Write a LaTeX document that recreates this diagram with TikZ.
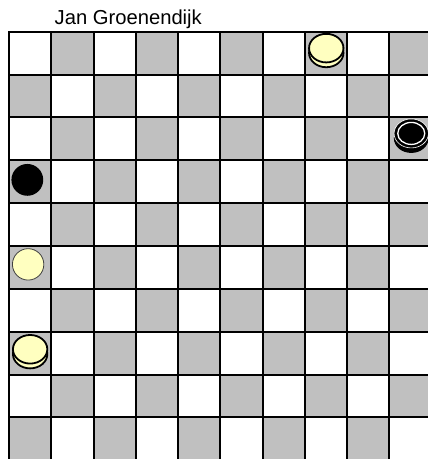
\documentclass[tikz,border=0pt]{standalone}
\usepackage{fontspec}
\setmainfont{Liberation Sans}
\definecolor{sqgray}{RGB}{192,192,192}
\definecolor{wpiece}{RGB}{255,255,192}
\tikzset{
  gridline/.style={line width=2pt, line cap=rect},
  darksq/.style={fill=sqgray},
  wman/.pic={\filldraw[fill=wpiece, draw=black!75, line width=0.8pt] (0,0) circle (15.7pt);},
  bman/.pic={\fill[black] (0,0) circle (15.9pt);},
  wking/.pic={
    \filldraw[fill=wpiece, draw=black, line width=1.8pt] (0,2.4) ellipse (17.2pt and 14.3pt);
    \filldraw[fill=wpiece, draw=black, line width=1.8pt] (0,-2.4) ellipse (17.2pt and 14.3pt);},
  bking/.pic={
    \filldraw[fill=black, draw=black, line width=1.8pt] (0,2.4) ellipse (16.5pt and 13.8pt);
    \filldraw[fill=black, draw=white, line width=0.6pt] (0,-2.4) ellipse (17.2pt and 14.5pt);
    \draw[white, line width=1.3pt] (0,-2.4) ellipse (13.5pt and 11pt);},
}
\begin{document}
\begin{tikzpicture}[x=1pt, y=-1pt]
  \useasboundingbox (0,0) rectangle (428,459);
  \clip (0,0) rectangle (428,459);
  \fill[white] (0,0) rectangle (428,459);
  % title
  \node[anchor=base, inner sep=0pt, font=\fontsize{20.2}{24}\selectfont] (title) at (128.3,24.3) {Jan Groenendijk};
  % squares
  \foreach \r in {0,...,9} {
    \foreach \c in {0,...,9} {
      \pgfmathtruncatemacro{\sqpar}{mod(\r+\c,2)}
      \ifnum\sqpar=1
        \fill[darksq] ({9+42.26*\c},{31.7+42.85*\r}) rectangle ({9+42.26*(\c+1)},{31.7+42.85*(\r+1)});
      \fi
    }
  }
  % grid lines
  \foreach \i in {0,...,10} {
    \draw[gridline] ({9+42.26*\i},31.7) -- ({9+42.26*\i},460.2);
    \draw[gridline] (9,{31.7+42.85*\i}) -- (431.6,{31.7+42.85*\i});
  }
  % pieces (cell centre plus small offset)
  \pic at ({9+42.26*7.5+0.3},{31.7+42.85*0.5-2.6}) {wking};
  \pic at ({9+42.26*9.5+0.8},{31.7+42.85*2.5-3}) {bking};
  \pic at ({9+42.26*0.5-2.8},{31.7+42.85*3.5-1.8}) {bman};
  \pic at ({9+42.26*0.5-2},{31.7+42.85*5.5-3}) {wman};
  \pic at ({9+42.26*0.5},{31.7+42.85*7.5-1.4}) {wking};
\end{tikzpicture}
\end{document}
